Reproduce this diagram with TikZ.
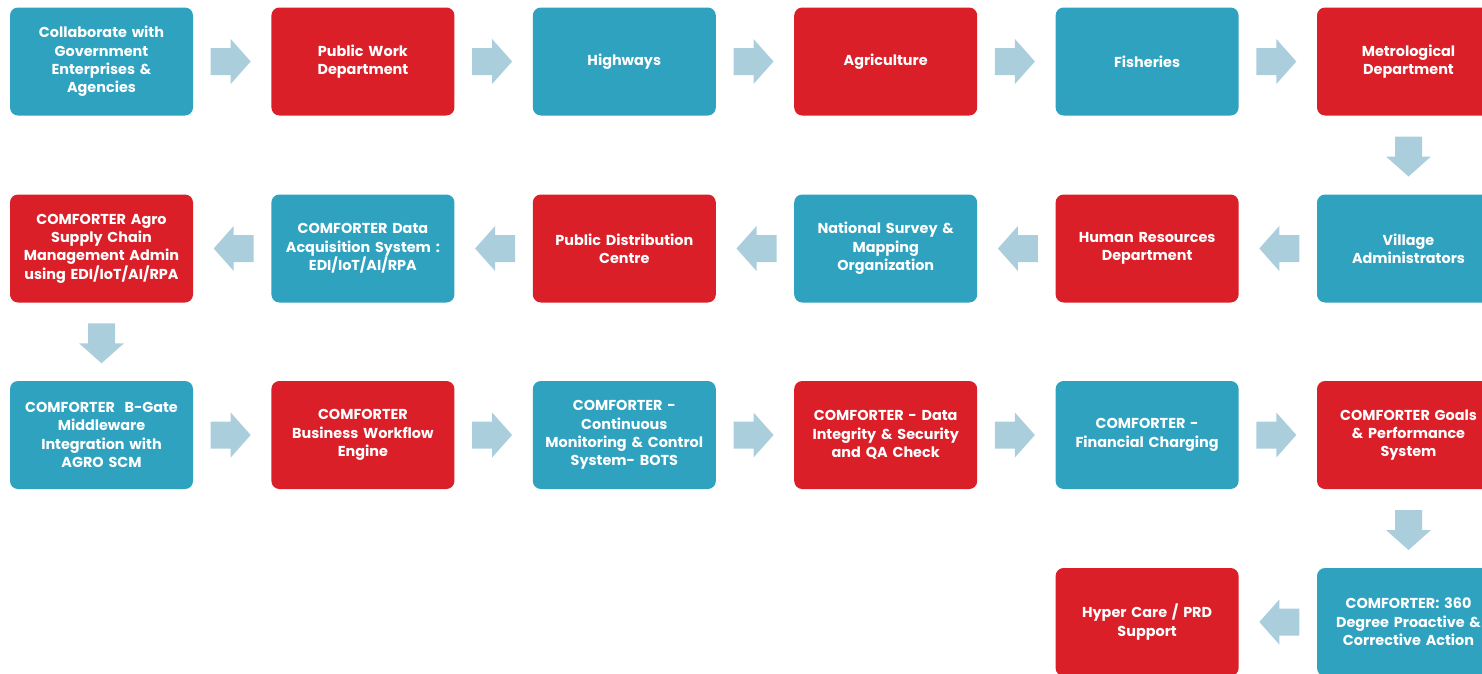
\documentclass[tikz,border=0pt]{standalone}
\usepackage{fontspec}
\setmainfont{Poppins}
\definecolor{tealbox}{RGB}{46,162,191}
\definecolor{redbox}{RGB}{218,31,40}
\definecolor{arrowc}{RGB}{171,206,221}
\tikzset{
 box/.style={rounded corners=8pt, minimum width=183pt, minimum height=108pt, text width=180pt, align=center, inner sep=0pt, font=\bfseries\fontsize{14.4}{18.4}\selectfont, text=white},
 tbox/.style={box, fill=tealbox},
 rbox/.style={box, fill=redbox},
 blkarrow/.pic={\fill[arrowc] (-20,-13.5) -- (0,-13.5) -- (0,-22.5) -- (20,0) -- (0,22.5) -- (0,13.5) -- (-20,13.5) -- cycle;},
}
\begin{document}
\begin{tikzpicture}[x=1pt,y=-1pt]
\useasboundingbox (0,0) rectangle (1482,673);
\clip (0,0) rectangle (1482,673);
% row 1
\node[tbox] (a1) at (101.5,61.5) {Collaborate with\\Government\\Enterprises \&\\Agencies};
\node[rbox] (a2) at (362.9,61.5) {Public Work\\Department};
\node[tbox] (a3) at (624.3,61.5) {Highways};
\node[rbox] (a4) at (885.7,61.5) {Agriculture};
\node[tbox] (a5) at (1147.1,61.5) {Fisheries};
\node[rbox] (a6) at (1408.5,61.5) {Metrological\\Department};
% row 2
\node[rbox] (b1) at (101.5,248.5) {COMFORTER Agro\\Supply Chain\\Management Admin\\using EDI/IoT/AI/RPA};
\node[tbox] (b2) at (362.9,248.5) {COMFORTER Data\\Acquisition System :\\EDI/IoT/AI/RPA};
\node[rbox] (b3) at (624.3,248.5) {Public Distribution\\Centre};
\node[tbox] (b4) at (885.7,248.5) {National Survey \&\\Mapping\\Organization};
\node[rbox] (b5) at (1147.1,248.5) {Human Resources\\Department};
\node[tbox] (b6) at (1408.5,248.5) {Village\\Administrators};
% row 3
\node[tbox] (c1) at (101.5,435) {COMFORTER\ \ B-Gate\\Middleware\\Integration with\\AGRO SCM};
\node[rbox] (c2) at (362.9,435) {COMFORTER\\Business Workflow\\Engine};
\node[tbox] (c3) at (624.3,435) {COMFORTER -\\Continuous\\Monitoring \& Control\\System- BOTS};
\node[rbox] (c4) at (885.7,435) {COMFORTER - Data\\Integrity \& Security\\and QA Check};
\node[tbox] (c5) at (1147.1,435) {COMFORTER -\\Financial Charging};
\node[rbox] (c6) at (1408.5,435) {COMFORTER Goals\\\& Performance\\System};
% row 4
\node[rbox] (d5) at (1147.1,622) {Hyper Care / PRD\\Support};
\node[tbox] (d6) at (1408.5,622) {COMFORTER: 360\\Degree Proactive \&\\Corrective Action};
% arrows
\path (a1.east) -- (a2.west) coordinate[midway] (m1);  \pic at ([xshift=-1.5pt]m1) {blkarrow};
\path (a2.east) -- (a3.west) coordinate[midway] (m2);  \pic at ([xshift=-1.5pt]m2) {blkarrow};
\path (a3.east) -- (a4.west) coordinate[midway] (m3);  \pic at ([xshift=-1.5pt]m3) {blkarrow};
\path (a4.east) -- (a5.west) coordinate[midway] (m4);  \pic at ([xshift=-1.5pt]m4) {blkarrow};
\path (a5.east) -- (a6.west) coordinate[midway] (m5);  \pic at ([xshift=-1.5pt]m5) {blkarrow};
\path (a6.south) -- (b6.north) coordinate[midway] (m6); \pic[rotate=-90] at ([yshift=-1.5pt]m6) {blkarrow};
\path (b6.west) -- (b5.east) coordinate[midway] (m7);  \pic[rotate=180] at ([xshift=1.5pt]m7) {blkarrow};
\path (b5.west) -- (b4.east) coordinate[midway] (m8);  \pic[rotate=180] at ([xshift=1.5pt]m8) {blkarrow};
\path (b4.west) -- (b3.east) coordinate[midway] (m9);  \pic[rotate=180] at ([xshift=1.5pt]m9) {blkarrow};
\path (b3.west) -- (b2.east) coordinate[midway] (m10); \pic[rotate=180] at ([xshift=1.5pt]m10) {blkarrow};
\path (b2.west) -- (b1.east) coordinate[midway] (m11); \pic[rotate=180] at ([xshift=1.5pt]m11) {blkarrow};
\path (b1.south) -- (c1.north) coordinate[midway] (m12); \pic[rotate=-90] at ([yshift=-1.5pt]m12) {blkarrow};
\path (c1.east) -- (c2.west) coordinate[midway] (m13); \pic at ([xshift=-1.5pt]m13) {blkarrow};
\path (c2.east) -- (c3.west) coordinate[midway] (m14); \pic at ([xshift=-1.5pt]m14) {blkarrow};
\path (c3.east) -- (c4.west) coordinate[midway] (m15); \pic at ([xshift=-1.5pt]m15) {blkarrow};
\path (c4.east) -- (c5.west) coordinate[midway] (m16); \pic at ([xshift=-1.5pt]m16) {blkarrow};
\path (c5.east) -- (c6.west) coordinate[midway] (m17); \pic at ([xshift=-1.5pt]m17) {blkarrow};
\path (c6.south) -- (d6.north) coordinate[midway] (m18); \pic[rotate=-90] at ([yshift=-1.5pt]m18) {blkarrow};
\path (d6.west) -- (d5.east) coordinate[midway] (m19); \pic[rotate=180] at ([xshift=1.5pt]m19) {blkarrow};
\end{tikzpicture}
\end{document}
